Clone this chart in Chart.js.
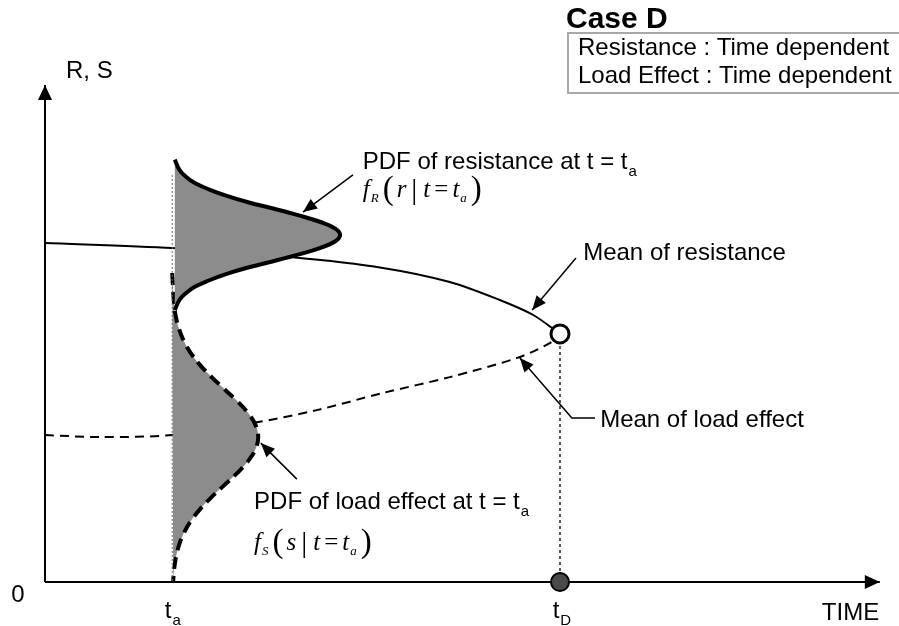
<!DOCTYPE html>
<html>
<head>
<meta charset="utf-8">
<script src="https://cdn.jsdelivr.net/npm/chart.js@4.4.1/dist/chart.umd.min.js"></script>
<style>
  html, body { margin: 0; padding: 0; background: #fff; }
  #wrap { width: 899px; height: 626px; }
</style>
</head>
<body>
<div id="wrap"><canvas id="case-d" width="899" height="626"></canvas></div>
<script>
// time marks on the x axis
const T_A = 2.47;
const T_D = 10;
const xMarks = [T_A, T_D];
const xMarkLabels = [["t", "a"], ["t", "D"]];

// mean of resistance (time, value)
const resistMeanT = [0, 2.47, 4.76, 6.56, 7.86, 8.83, 9.48, 10];
const resistMeanV = [11.3, 11.13, 10.83, 10.47, 10.0, 9.4, 8.9, 8.27];

// mean of load effect (time, value)
const loadMeanT = [0, 1.07, 2.47, 4.04, 5.28, 6.56, 7.86, 9.17, 9.81, 10];
const loadMeanV = [4.9, 4.83, 4.9, 5.3, 5.73, 6.3, 6.83, 7.47, 7.97, 8.27];

// pdf of resistance at t = ta : level and density (drawn sideways from ta)
const resistPdfV = [14.08, 13.74, 13.52, 13.30, 13.09, 12.87, 12.65, 12.44, 12.22, 12.00, 11.79, 11.57, 11.35, 11.14, 10.92, 10.70, 10.49, 10.27, 10.05, 9.84, 9.62, 9.40, 9.06];
const resistPdfD = [0.05, 0.14, 0.26, 0.44, 0.71, 1.06, 1.49, 1.98, 2.46, 2.88, 3.16, 3.26, 3.16, 2.88, 2.46, 1.98, 1.49, 1.06, 0.71, 0.44, 0.26, 0.14, 0.05];

// pdf of load effect at t = ta
const loadPdfV = [10.3, 9.23, 8.83, 8.43, 8.03, 7.63, 7.23, 6.83, 6.43, 6.03, 5.63, 5.23, 4.83, 4.43, 4.03, 3.63, 3.23, 2.83, 2.43, 2.03, 1.63, 1.23, 0.83, 0.43, 0.03];
const loadPdfD = [0.0, 0.038, 0.073, 0.133, 0.226, 0.361, 0.542, 0.765, 1.013, 1.261, 1.474, 1.618, 1.67, 1.618, 1.474, 1.261, 1.013, 0.765, 0.542, 0.361, 0.226, 0.133, 0.073, 0.038, 0.019];

// axis extents
const X_END = 16.21;
const Y_END = 16.57;
const TA_LINE_TOP = 13.57;

const SANS = '"Liberation Sans", Arial, sans-serif';
const SERIF = '"Liberation Serif", "Times New Roman", serif';

const pts = (xs, ys) => xs.map((x, i) => ({ x: x, y: ys[i] }));
const side = (vs, ds) => vs.map((v, i) => ({ x: T_A + ds[i], y: v }));

function arrow(ctx, path, head, half) {
  ctx.beginPath();
  ctx.moveTo(path[0][0], path[0][1]);
  for (let i = 1; i < path.length; i++) ctx.lineTo(path[i][0], path[i][1]);
  ctx.stroke();
  const [x1, y1] = path[path.length - 2];
  const [x2, y2] = path[path.length - 1];
  const a = Math.atan2(y2 - y1, x2 - x1);
  const bx = x2 - head * Math.cos(a), by = y2 - head * Math.sin(a);
  ctx.beginPath();
  ctx.moveTo(x2, y2);
  ctx.lineTo(bx + half * Math.sin(a), by - half * Math.cos(a));
  ctx.lineTo(bx - half * Math.sin(a), by + half * Math.cos(a));
  ctx.closePath();
  ctx.fill();
}

// text with a subscript at the end
function subText(ctx, x, y, main, sub, size) {
  ctx.font = size + "px " + SANS;
  ctx.fillText(main, x, y);
  const w = ctx.measureText(main).width;
  ctx.font = Math.round(size * 0.62) + "px " + SANS;
  ctx.fillText(sub, x + w + 1, y + 7);
}

// math label, f_X ( x | t = t_a )
function mathText(ctx, x, y, fn, sub, arg) {
  const parts = [
    { t: "f", f: "italic 25px " + SERIF, dy: 0, g: 1 },
    { t: sub, f: "italic 13px " + SERIF, dy: 5, g: 4 },
    { t: "(", f: "33px " + SERIF, dy: 2, g: 3 },
    { t: arg, f: "italic 25px " + SERIF, dy: 0, g: 5 },
    { t: "|", f: "30px " + SERIF, dy: 2, g: 6 },
    { t: "t", f: "italic 25px " + SERIF, dy: 0, g: 4 },
    { t: "=", f: "25px " + SERIF, dy: 0, g: 4 },
    { t: "t", f: "italic 25px " + SERIF, dy: 0, g: 1 },
    { t: "a", f: "italic 13px " + SERIF, dy: 5, g: 4 },
    { t: ")", f: "33px " + SERIF, dy: 2, g: 0 }
  ];
  let cx = x;
  parts.forEach(p => {
    ctx.font = p.f;
    ctx.fillText(p.t, cx, y + p.dy);
    cx += ctx.measureText(p.t).width + p.g;
  });
}

const diagram = {
  id: "diagram",
  beforeDatasetsDraw(chart) {
    const ctx = chart.ctx;
    const xs = chart.scales.x, ys = chart.scales.y;
    const ox = xs.getPixelForValue(0), oy = ys.getPixelForValue(0);
    ctx.save();
    ctx.strokeStyle = "#000";
    ctx.fillStyle = "#000";
    ctx.lineWidth = 2;
    arrow(ctx, [[ox, oy], [xs.getPixelForValue(X_END) - 12, oy], [xs.getPixelForValue(X_END), oy]], 15, 7);
    arrow(ctx, [[ox, oy], [ox, ys.getPixelForValue(Y_END) + 12], [ox, ys.getPixelForValue(Y_END)]], 15, 7);
    ctx.restore();
  },
  afterDatasetsDraw(chart) {
    const ctx = chart.ctx;
    const xs = chart.scales.x, ys = chart.scales.y;
    const P = (x, y) => [xs.getPixelForValue(x), ys.getPixelForValue(y)];
    ctx.save();
    ctx.fillStyle = "#000";
    ctx.strokeStyle = "#000";
    ctx.lineWidth = 1.5;

    // leader arrows
    arrow(ctx, [P(5.98, 13.57), P(5.01, 12.33)], 14, 6);
    arrow(ctx, [P(10.31, 10.8), P(9.46, 9.07)], 14, 6);
    arrow(ctx, [P(10.68, 5.47), P(10.23, 5.47), P(9.22, 7.47)], 14, 6);
    arrow(ctx, [P(4.89, 3.43), P(4.19, 4.63)], 14, 6);

    ctx.textBaseline = "alphabetic";
    ctx.textAlign = "left";
    let p = P(6.17, 13.78);
    subText(ctx, p[0], p[1], "PDF of resistance at t = t", "a", 24);
    p = P(6.17, 12.83);
    mathText(ctx, p[0], p[1], "f", "R", "r");
    p = P(10.45, 10.75);
    ctx.font = "24px " + SANS;
    ctx.fillText("Mean of resistance", p[0], p[1]);
    p = P(10.78, 5.18);
    ctx.fillText("Mean of load effect", p[0], p[1]);
    p = P(4.06, 2.45);
    subText(ctx, p[0], p[1], "PDF of load effect at t = t", "a", 24);
    p = P(4.06, 1.07);
    mathText(ctx, p[0], p[1], "f", "S", "s");

    // axis labels
    const ox = xs.getPixelForValue(0), oy = ys.getPixelForValue(0);
    ctx.font = "24px " + SANS;
    ctx.textAlign = "center";
    ctx.fillText("0", ox - 27, oy + 20);
    ctx.textAlign = "left";
    ctx.fillText("R, S", ox + 21, ys.getPixelForValue(Y_END) - 7);
    xMarks.forEach((m, i) => {
      const x = xs.getPixelForValue(m);
      ctx.font = "24px " + SANS;
      const w = ctx.measureText(xMarkLabels[i][0]).width;
      subText(ctx, x - w / 2 - 4, oy + 36, xMarkLabels[i][0], xMarkLabels[i][1], 24);
    });
    ctx.font = "24px " + SANS;
    ctx.fillText("TIME", xs.getPixelForValue(X_END) - 58, oy + 38);

    // case box
    ctx.font = "bold 30px " + SANS;
    ctx.fillText("Case D", 566, 28);
    ctx.strokeStyle = "#a8a8a8";
    ctx.lineWidth = 2;
    ctx.beginPath();
    ctx.moveTo(905, 33);
    ctx.lineTo(568, 33);
    ctx.lineTo(568, 93);
    ctx.lineTo(905, 93);
    ctx.stroke();
    ctx.font = "24px " + SANS;
    ctx.fillText("Resistance : Time dependent", 578, 55);
    ctx.fillText("Load Effect : Time dependent", 578, 83);
    ctx.restore();
  }
};

const config = {
  type: "scatter",
  data: {
    datasets: [
      {
        label: "point at tD",
        data: [{ x: T_D, y: resistMeanV[resistMeanV.length - 1] }],
        pointRadius: 9,
        pointBackgroundColor: "#fff",
        pointBorderColor: "#000",
        pointBorderWidth: 3,
        showLine: false,
      },
      {
        label: "tD",
        data: [{ x: T_D, y: 0 }],
        pointRadius: 9,
        pointBackgroundColor: "#4a4a4a",
        pointBorderColor: "#000",
        pointBorderWidth: 2,
        showLine: false,
      },
      {
        label: "ta line",
        data: [{ x: T_A, y: TA_LINE_TOP }, { x: T_A, y: 0 }],
        showLine: true,
        borderColor: "#666",
        borderWidth: 1,
        borderDash: [2, 2],
        pointRadius: 0,
      },
      {
        label: "PDF of resistance",
        data: side(resistPdfV, resistPdfD),
        showLine: true,
        fill: "shape",
        backgroundColor: "#8c8c8c",
        borderColor: "#000",
        borderWidth: 4,
        tension: 0.4,
        pointRadius: 0,
      },
      {
        label: "PDF of load effect",
        data: side(loadPdfV, loadPdfD),
        showLine: true,
        fill: "shape",
        backgroundColor: "#8c8c8c",
        borderColor: "#000",
        borderWidth: 4,
        borderDash: [12, 7],
        tension: 0.4,
        pointRadius: 0,
      },
      {
        label: "tD line",
        data: [{ x: T_D, y: resistMeanV[resistMeanV.length - 1] }, { x: T_D, y: 0 }],
        showLine: true,
        borderColor: "#000",
        borderWidth: 1.3,
        borderDash: [3, 3],
        pointRadius: 0,
      },
      {
        label: "Mean of resistance",
        data: pts(resistMeanT, resistMeanV),
        showLine: true,
        borderColor: "#000",
        borderWidth: 2,
        tension: 0.3,
        pointRadius: 0,
      },
      {
        label: "Mean of load effect",
        data: pts(loadMeanT, loadMeanV),
        showLine: true,
        borderColor: "#000",
        borderWidth: 2,
        borderDash: [9, 6],
        tension: 0.3,
        pointRadius: 0,
      },
    ],
  },
  options: {
    responsive: false,
    animation: false,
    devicePixelRatio: 1,
    events: [],
    layout: { padding: 0, autoPadding: false },
    plugins: {
      legend: { display: false },
      tooltip: { enabled: false },
    },
    scales: {
      x: { type: "linear", min: -45 / 51.5, max: 854 / 51.5, display: false },
      y: { type: "linear", min: -44 / 30, max: 582 / 30, display: false },
    },
  },
  plugins: [diagram],
};

const ctx = document.getElementById("case-d").getContext("2d");
new Chart(ctx, config);
</script>
</body>
</html>
